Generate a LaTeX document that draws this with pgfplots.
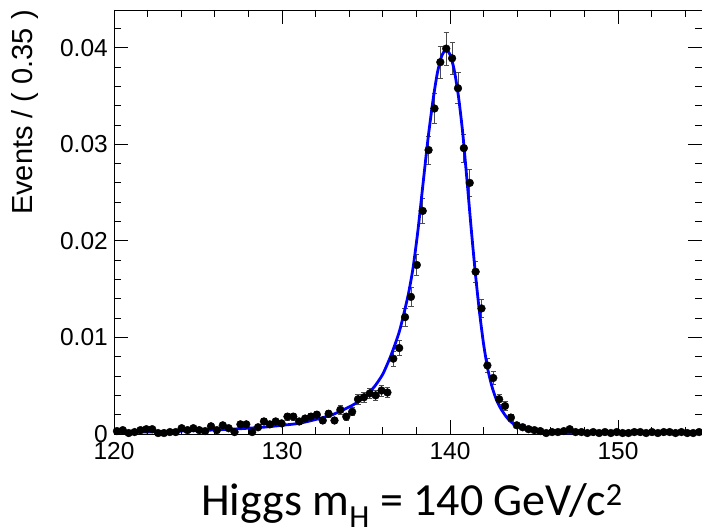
\documentclass[border=0pt]{standalone}
\usepackage{fontspec}
\setmainfont{Liberation Sans}
\newfontfamily\captionfont{Carlito}
\usepackage{pgfplots}
\usepackage{pgfplotstable}
\pgfplotsset{compat=1.18}

% binned toy data, bin width 0.35
\pgfplotstableread{
m v e
120.175 0.0003 0.00015
120.525 0.0004 0.00017
120.875 0.0001 0.00015
121.225 0.0002 0.00015
121.575 0.0004 0.00017
121.925 0.0005 0.00019
122.275 0.0005 0.00019
122.625 0.0001 0.00015
122.975 0.0001 0.00015
123.325 0.0002 0.00015
123.675 0.0002 0.00015
124.025 0.0006 0.00021
124.375 0.0004 0.00017
124.725 0.0006 0.00021
125.075 0.0004 0.00017
125.425 0.0003 0.00015
125.775 0.0008 0.00024
126.125 0.0004 0.00017
126.475 0.0009 0.00026
126.825 0.0006 0.00021
127.175 0.0002 0.00015
127.525 0.0010 0.00027
127.875 0.0010 0.00027
128.225 0.0002 0.00015
128.575 0.0007 0.00022
128.925 0.0013 0.00031
129.275 0.0010 0.00027
129.625 0.0013 0.00031
129.975 0.0011 0.00028
130.325 0.0018 0.00036
130.675 0.0018 0.00036
131.025 0.0013 0.00031
131.375 0.0016 0.00034
131.725 0.0018 0.00036
132.075 0.0020 0.00038
132.425 0.0014 0.00032
132.775 0.0021 0.00039
133.125 0.0014 0.00032
133.475 0.0025 0.00042
133.825 0.0018 0.00036
134.175 0.0023 0.00041
134.525 0.0036 0.00051
134.875 0.0038 0.00052
135.225 0.0042 0.00055
135.575 0.0040 0.00054
135.925 0.0045 0.00057
136.275 0.0043 0.00056
136.625 0.0078 0.00075
136.975 0.0089 0.00080
137.325 0.0121 0.00094
137.675 0.0142 0.00101
138.025 0.0175 0.00112
138.375 0.0231 0.00129
138.725 0.0294 0.00146
139.075 0.0337 0.00156
139.425 0.0385 0.00167
139.775 0.0399 0.00170
140.125 0.0389 0.00168
140.475 0.0358 0.00161
140.825 0.0296 0.00146
141.175 0.0260 0.00137
141.525 0.0168 0.00110
141.875 0.0130 0.00097
142.225 0.0071 0.00072
142.575 0.0058 0.00065
142.925 0.0036 0.00051
143.275 0.0029 0.00046
143.625 0.0017 0.00035
143.975 0.0009 0.00026
144.325 0.0007 0.00022
144.675 0.0005 0.00019
145.025 0.0004 0.00017
145.375 0.0003 0.00015
145.725 0.0001 0.00015
146.075 0.0002 0.00015
146.425 0.0002 0.00015
146.775 0.0003 0.00015
147.125 0.0005 0.00019
147.475 0.0002 0.00015
147.825 0.0002 0.00015
148.175 0.0001 0.00015
148.525 0.0002 0.00015
148.875 0.0001 0.00015
149.225 0.0002 0.00015
149.575 0.0001 0.00015
149.925 0.0002 0.00015
150.275 0.0001 0.00015
150.625 0.0001 0.00015
150.975 0.0002 0.00015
151.325 0.0002 0.00015
151.675 0.0001 0.00015
152.025 0.0002 0.00015
152.375 0.0001 0.00015
152.725 0.0002 0.00015
153.075 0.0002 0.00015
153.425 0.0001 0.00015
153.775 0.0002 0.00015
154.125 0.0001 0.00015
154.475 0.0001 0.00015
154.825 0.0002 0.00015
}\datatable

% fitted pdf
\pgfplotstableread{
m f
120 0.00015
121 0.00018
122 0.00021
123 0.00025
124 0.0003
125 0.00035
126 0.00042
127 0.0005
128 0.0006
129 0.00072
130 0.0009
131 0.0011
132 0.0015
133 0.0020
134 0.0028
134.5 0.0033
135 0.0040
135.5 0.0049
136 0.0062
136.5 0.0082
137 0.0107
137.5 0.0143
137.8 0.0172
138.1 0.0212
138.4 0.0260
138.7 0.0307
139.0 0.0347
139.25 0.0374
139.5 0.0391
139.75 0.0398
140.0 0.0393
140.25 0.0377
140.5 0.0350
140.75 0.0313
141.0 0.0265
141.25 0.0215
141.5 0.0168
141.75 0.0127
142.0 0.0093
142.25 0.0067
142.5 0.0049
142.75 0.0036
143.0 0.0027
143.3 0.0019
143.6 0.0013
144.0 0.0008
144.5 0.0005
145.0 0.0003
145.5 0.0002
146.5 0.00012
148 0.00009
150 0.00007
155 0.00005
}\fittable

\begin{document}
\begin{tikzpicture}
\begin{axis}[
    at={(0pt,0pt)}, anchor=south west,
    scale only axis,
    width=588pt, height=424pt,
    xmin=120, xmax=155,
    ymin=0, ymax=0.0439,
    xtick={120,130,140,150},
    minor xtick={122,124,126,128,132,134,136,138,142,144,146,148,152,154},
    ytick={0,0.01,0.02,0.03,0.04},
    yticklabels={0,0.01,0.02,0.03,0.04},
    minor ytick={0.002,0.004,0.006,0.008,0.012,0.014,0.016,0.018,0.022,0.024,0.026,0.028,0.032,0.034,0.036,0.038,0.042},
    scaled y ticks=false,
    tick align=inside,
    tick pos=both,
    ticklabel pos=left,
    major tick length=14pt,
    minor tick length=7pt,
    tick style={black, line width=0.8pt},
    axis line style={black, line width=0.9pt},
    /pgf/number format/assume math mode=true,
    tick label style={font=\fontsize{24.5}{28}\selectfont},
    xticklabel style={inner sep=0pt, yshift=-8pt},
    yticklabel style={inner sep=0pt, xshift=-6pt},
    clip=false,
]
\addplot[
    only marks, mark=*, mark size=3.9pt, black,
    error bars/.cd, y dir=both, y explicit,
    error bar style={gray!60!black, line width=0.8pt},
    error mark options={rotate=90, gray!60!black, line width=0.8pt, mark size=2.6pt},
] table[x=m, y=v, y error=e] {\datatable};

\addplot[blue, line width=2.8pt, smooth, tension=0.4] table[x=m, y=f] {\fittable};
\end{axis}

\node[rotate=90, anchor=east, inner sep=0pt, font=\fontsize{29}{32}\selectfont]
    at (-89pt,424pt) {Events / ( 0.35 )};
\node[anchor=base, inner sep=0pt, font=\captionfont\fontsize{46}{50}\selectfont]
    at (298pt,-81pt) {Higgs m\textsubscript{H} = 140 GeV/c\textsuperscript{2}};

\pgfresetboundingbox
\path[use as bounding box] (-114pt,-97pt) rectangle (588pt,434pt);
\end{tikzpicture}
\end{document}
